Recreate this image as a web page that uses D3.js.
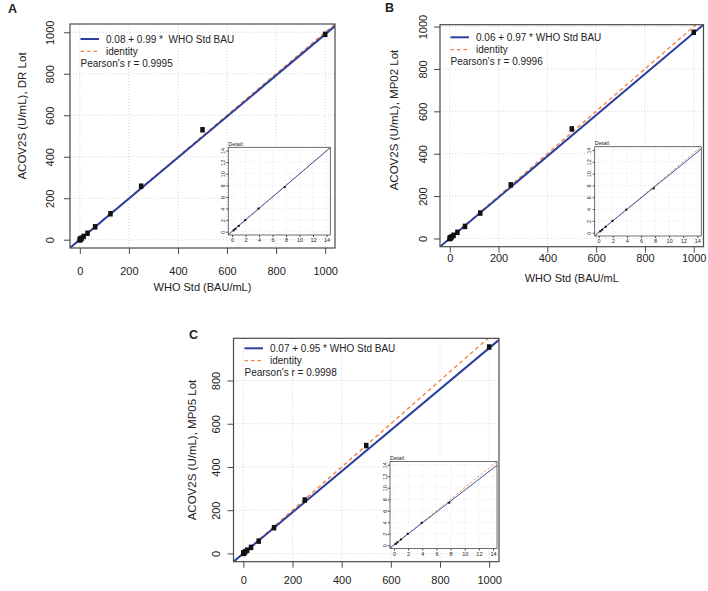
<!DOCTYPE html>
<html>
<head>
<meta charset="utf-8">
<script src="https://cdn.jsdelivr.net/npm/d3@7"></script>
<style>
  body { margin: 0; background: #fff; }
  svg text { font-family: "Liberation Sans", Arial, sans-serif; fill: #222; }
</style>
</head>
<body>
<svg width="708" height="591"></svg>
<script>
// data
var panelLetters = ["A", "B", "C"];
var yTitles = ["ACOV2S (U/mL), DR Lot", "ACOV2S (U/mL), MP02 Lot", "ACOV2S (U/mL), MP05 Lot"];
var xTitles = ["WHO Std (BAU/mL)", "WHO Std (BAU/mL", ""];
var whoStd = [0.24, 0.49, 0.98, 1.95, 3.91, 7.81, 15.63, 31.25, 62.5, 125, 250, 500, 1000];
var drLot = [0.25, 0.5, 1.0, 2.0, 4.0, 7.7, 16, 31, 62, 125, 258, 530, 990];
var mp02Lot = [0.25, 0.5, 1.0, 2.0, 3.9, 7.5, 15, 29, 57, 120, 253, 517, 973];
var mp05Lot = [0.25, 0.5, 1.0, 2.0, 3.9, 7.4, 15, 28, 57, 119, 247, 499, 955];
var yUpper = [1000, 970, 957];
var intercepts = [0.08, 0.06, 0.07];
var slopes = [0.99, 0.97, 0.95];
var fitLabels = ["0.08 + 0.99 *  WHO Std BAU", "0.06 + 0.97 * WHO Std BAU", "0.07 + 0.95 * WHO Std BAU"];
var pearsonR = ["0.9995", "0.9996", "0.9998"];
var mainTicks = [0, 200, 400, 600, 800, 1000];
var detailTicks = [0, 2, 4, 6, 8, 10, 12, 14];

// layout
var layout = [
  {box: [70, 24, 335, 248], inset: [228.3, 147.3, 330.3, 235], letter: [8, 13],
   leg: [80.5, 39], yTitleX: 22, yTitleY: 116, yTickOff: 20, xTickOff: 22.7, xTitleY: 286.7},
  {box: [440, 24.7, 703.5, 246.7], inset: [594.7, 146.7, 701.3, 236], letter: [385, 12],
   leg: [450.5, 37.3], yTitleX: 394, yTitleY: 120, yTickOff: 17, xTickOff: 11.8, xTitleY: 278.5},
  {box: [233.5, 338.3, 499, 561.7], inset: [390, 461.5, 497, 548.5], letter: [189, 339],
   leg: [244.5, 348.3], yTitleX: 192, yTitleY: 450, yTickOff: 18, xTickOff: 18.5, xTitleY: 0}
];

var blue = "#2b3f9c", orange = "#f3834a", frame = "#4a4a4a", gridCol = "#d6d6d6";
var series = [drLot, mp02Lot, mp05Lot];
var svg = d3.select("svg");

function pad(lo, hi) { var d = (hi - lo) * 0.04; return [lo - d, hi + d]; }

function drawPlot(g, b, xDom, yDom, ys, k, small, id, xOff, yOff) {
  var x = d3.scaleLinear().domain(xDom).range([b[0], b[2]]);
  var y = d3.scaleLinear().domain(yDom).range([b[3], b[1]]);
  var ticks = small ? detailTicks : mainTicks;
  var yt = ticks.filter(function(t) { return t <= yDom[1]; });

  g.append("rect").attr("x", b[0]).attr("y", b[1]).attr("width", b[2] - b[0]).attr("height", b[3] - b[1])
    .attr("fill", "#fff");
  svg.append("clipPath").attr("id", id).append("rect")
    .attr("x", b[0]).attr("y", b[1]).attr("width", b[2] - b[0]).attr("height", b[3] - b[1]);

  // grid
  g.selectAll(".gx").data(ticks).enter().append("line")
    .attr("x1", function(d) { return x(d); }).attr("x2", function(d) { return x(d); })
    .attr("y1", b[1]).attr("y2", b[3])
    .attr("stroke", gridCol).attr("stroke-width", small ? 0.6 : 1).attr("stroke-dasharray", "1,2");
  g.selectAll(".gy").data(yt).enter().append("line")
    .attr("y1", function(d) { return y(d); }).attr("y2", function(d) { return y(d); })
    .attr("x1", b[0]).attr("x2", b[2])
    .attr("stroke", gridCol).attr("stroke-width", small ? 0.6 : 1).attr("stroke-dasharray", "1,2");

  var lines = g.append("g").attr("clip-path", "url(#" + id + ")");
  var xs = [xDom[0], xDom[1]];
  lines.append("line")
    .attr("x1", x(xs[0])).attr("y1", y(xs[0])).attr("x2", x(xs[1])).attr("y2", y(xs[1]))
    .attr("stroke", orange).attr("stroke-width", small ? 0.9 : 1.4)
    .attr("stroke-dasharray", small ? "2.5,2" : "4,3");
  lines.append("line")
    .attr("x1", x(xs[0])).attr("y1", y(intercepts[k] + slopes[k] * xs[0]))
    .attr("x2", x(xs[1])).attr("y2", y(intercepts[k] + slopes[k] * xs[1]))
    .attr("stroke", blue).attr("stroke-width", small ? 0.9 : 2);

  var pts = whoStd.map(function(v, i) { return [v, ys[i]]; })
    .filter(function(p) { return p[0] <= xDom[1] && p[1] <= yDom[1]; });
  var w = small ? 2 : 4.5, h = small ? 2 : 5.5;
  lines.selectAll(".pt").data(pts).enter().append("rect")
    .attr("x", function(d) { return x(d[0]) - w / 2; })
    .attr("y", function(d) { return y(d[1]) - h / 2; })
    .attr("width", w).attr("height", h).attr("fill", "#111");

  // axes
  var fs = small ? 5.5 : 11;
  var ax = g.append("g").attr("transform", "translate(0," + b[3] + ")")
    .call(d3.axisBottom(x).tickValues(ticks).tickSize(small ? 2 : 6).tickFormat(d3.format("d")));
  ax.select(".domain").remove();
  ax.selectAll("line").attr("stroke", frame);
  ax.selectAll("text").attr("font-size", fs).attr("fill", "#222").attr("font-family", null)
    .attr("dy", null).attr("y", xOff).attr("dominant-baseline", "central");

  var ay = g.append("g").attr("transform", "translate(" + b[0] + ",0)")
    .call(d3.axisLeft(y).tickValues(yt).tickSize(small ? 2 : 6).tickFormat(d3.format("d")));
  ay.select(".domain").remove();
  ay.selectAll("line").attr("stroke", frame);
  ay.selectAll("text").attr("font-size", fs).attr("fill", "#222").attr("font-family", null)
    .attr("x", null).attr("dy", null)
    .attr("text-anchor", "middle").attr("dominant-baseline", "central")
    .attr("transform", "translate(" + (-yOff) + ",0) rotate(-90)");

  g.append("rect").attr("x", b[0]).attr("y", b[1]).attr("width", b[2] - b[0]).attr("height", b[3] - b[1])
    .attr("fill", "none").attr("stroke", frame).attr("stroke-width", small ? 0.8 : 1.2);
}

series.forEach(function(ys, k) {
  var L = layout[k];
  var g = svg.append("g");
  drawPlot(g, L.box, pad(0, 1000), pad(0, yUpper[k]), ys, k, false, "clipMain" + k, L.xTickOff, L.yTickOff);

  // legend
  var lg = g.append("g");
  lg.append("line").attr("x1", L.leg[0]).attr("x2", L.leg[0] + 18.5).attr("y1", L.leg[1]).attr("y2", L.leg[1])
    .attr("stroke", blue).attr("stroke-width", 2);
  lg.append("line").attr("x1", L.leg[0]).attr("x2", L.leg[0] + 18.5).attr("y1", L.leg[1] + 12.3).attr("y2", L.leg[1] + 12.3)
    .attr("stroke", orange).attr("stroke-width", 1.3).attr("stroke-dasharray", "3.5,3");
  lg.append("text").attr("x", L.leg[0] + 25.5).attr("y", L.leg[1]).attr("dy", "0.35em")
    .attr("font-size", 10).style("white-space", "pre").text(fitLabels[k]);
  lg.append("text").attr("x", L.leg[0] + 25.5).attr("y", L.leg[1] + 12.3).attr("dy", "0.35em")
    .attr("font-size", 10).text("identity");
  lg.append("text").attr("x", L.leg[0]).attr("y", L.leg[1] + 24.6).attr("dy", "0.35em")
    .attr("font-size", 10).text("Pearson's r = " + pearsonR[k]);

  // titles
  g.append("text").attr("transform", "translate(" + L.yTitleX + "," + L.yTitleY + ") rotate(-90)")
    .attr("text-anchor", "middle").attr("dominant-baseline", "central").attr("font-size", 11.5)
    .text(yTitles[k]);
  if (xTitles[k]) {
    g.append("text").attr("x", (L.box[0] + L.box[2]) / 2).attr("y", L.xTitleY).attr("dy", "0.35em")
      .attr("text-anchor", "middle").attr("font-size", 11).text(xTitles[k]);
  }
  g.append("text").attr("x", L.letter[0]).attr("y", L.letter[1]).attr("font-size", 12.5)
    .attr("font-weight", "bold").attr("fill", "#000").text(panelLetters[k]);

  // inset detail plot
  var ig = g.append("g");
  drawPlot(ig, L.inset, pad(0, 14), pad(0, 14), ys, k, true, "clipDetail" + k, 5, 5.5);
  ig.append("text").attr("x", L.inset[0]).attr("y", L.inset[1] - 1.5)
    .attr("font-size", 5.5).text("Detail:");
});
</script>
</body>
</html>
